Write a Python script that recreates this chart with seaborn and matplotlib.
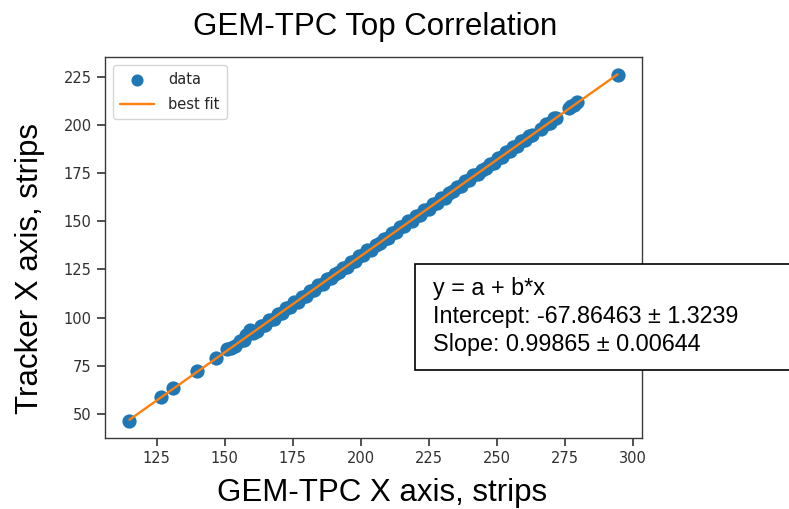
import matplotlib
matplotlib.use("Agg")
import matplotlib.pyplot as plt
from matplotlib.patches import Rectangle
import seaborn as sns
import pandas as pd

# ---- data ----
gem_x = [115.0, 126.5, 131.0, 140.0, 147.0, 151.0, 152.5, 154.0, 155.5, 157.0,
         158.0, 159.5, 160.5, 162.0, 163.5, 165.0, 166.5, 168.0, 169.5, 171.0,
         172.5, 174.0, 175.5, 177.0, 178.5, 180.0, 181.5, 183.0, 184.5, 186.0,
         187.5, 189.0, 190.5, 192.0, 193.5, 195.0, 196.5, 198.0, 199.5, 201.0,
         202.5, 204.0, 205.5, 207.0, 208.5, 210.0, 211.5, 213.0, 214.5, 216.0,
         217.5, 219.0, 220.5, 222.0, 223.5, 225.0, 226.5, 228.0, 229.5, 231.0,
         232.5, 234.0, 235.5, 237.0, 238.5, 240.0, 241.5, 243.0, 244.5, 246.0,
         247.5, 249.0, 250.5, 252.0, 253.5, 255.0, 256.0, 257.5, 259.0, 260.5,
         262.0, 263.0, 266.5, 268.0, 269.5, 271.0, 272.0, 276.5, 277.5, 278.5,
         279.5, 294.5]
tracker_y = [46.5, 58.8, 63.3, 72.2, 79.0, 83.5, 84.0, 85.3, 87.9, 88.4,
             90.8, 93.6, 92.0, 93.2, 95.8, 96.4, 98.9, 99.5, 101.8, 102.3,
             104.9, 105.5, 107.9, 108.3, 110.8, 111.4, 113.9, 114.5, 116.9, 117.4,
             119.9, 120.5, 122.8, 123.4, 125.9, 126.3, 128.9, 129.4, 131.8, 132.5,
             134.9, 135.3, 137.9, 138.5, 140.8, 141.4, 143.9, 144.4, 146.8, 147.5,
             149.9, 150.3, 152.8, 153.4, 155.9, 156.5, 158.8, 159.4, 161.9, 162.3,
             164.8, 165.5, 167.9, 168.4, 170.8, 171.3, 173.9, 174.5, 176.8, 177.4,
             179.9, 180.3, 182.8, 183.5, 185.9, 186.4, 188.4, 188.9, 191.5, 192.0,
             194.4, 194.6, 197.9, 200.4, 200.9, 203.4, 203.5, 208.9, 210.0, 210.2,
             211.9, 226.0]
intercept = -67.86463
intercept_err = 1.3239
slope = 0.99865
slope_err = 0.00644

x_ticks = [125, 150, 175, 200, 225, 250, 275, 300]
y_ticks = [50, 75, 100, 125, 150, 175, 200, 225]

title = "GEM-TPC Top Correlation"
x_label = "GEM-TPC X axis, strips"
y_label = "Tracker X axis, strips"

# ---- styling ----
sns.set_theme(style="ticks", rc={
    "axes.edgecolor": "#3a3a3a",
    "axes.linewidth": 1.0,
    "xtick.color": "#3a3a3a",
    "ytick.color": "#3a3a3a",
    "xtick.labelcolor": "#303030",
    "ytick.labelcolor": "#303030",
    "xtick.labelsize": 10.5,
    "ytick.labelsize": 10.5,
})
plt.rcParams["font.family"] = ["DejaVu Sans"]

W, H = 789, 509
fig = plt.figure(figsize=(W / 100, H / 100), dpi=100)
ax = fig.add_axes([105 / W, 1 - 438 / H, (642 - 105) / W, (438 - 57) / H])

df = pd.DataFrame({"x": gem_x, "y": tracker_y})
sns.scatterplot(data=df, x="x", y="y", ax=ax, s=105, color="#1f77b4",
                linewidth=0, label="data", zorder=2)

x_fit = [min(gem_x), max(gem_x)]
fit_df = pd.DataFrame({"x": x_fit, "y": [intercept + slope * v for v in x_fit]})
sns.lineplot(data=fit_df, x="x", y="y", ax=ax, color="#ff7f0e", linewidth=1.7,
             label="best fit", zorder=3)

ax.set_xticks(x_ticks)
ax.set_yticks(y_ticks)
ax.set_xlabel("")
ax.set_ylabel("")
ax.margins(0.05)
for sp in ax.spines.values():
    sp.set_visible(True)

leg = ax.legend(loc="upper left", fontsize=10.5, frameon=True, fancybox=True,
                framealpha=0.8, edgecolor="#cccccc", markerscale=0.85,
                borderaxespad=0.55, labelspacing=0.65, borderpad=0.5,
                handlelength=2.3, handletextpad=1.0)

big = ["Liberation Sans", "DejaVu Sans"]
fig.text(375 / W, 1 - 27 / H, title, ha="center", va="center",
         fontsize=22.5, family=big, color="black")
fig.text(382 / W, 1 - 493 / H, x_label, ha="center", va="center",
         fontsize=22.5, family=big, color="black")
fig.text(30 / W, 1 - 268 / H, y_label, ha="center", va="center",
         rotation=90, fontsize=22.5, family=big, color="black")

# annotation box with the fit result
fig.patches.append(Rectangle((415 / W, 1 - 370 / H), (800 - 415) / W, (370 - 264) / H,
                             transform=fig.transFigure, facecolor="white",
                             edgecolor="black", linewidth=1.2, zorder=5))
lines = ["y = a + b*x",
         f"Intercept: {intercept:.5f} \u00b1 {intercept_err:.4f}",
         f"Slope: {slope:.5f} \u00b1 {slope_err:.5f}"]
for i, t in enumerate(lines):
    fig.text(433 / W, 1 - (289 + 28 * i) / H, t, ha="left", va="center",
             fontsize=16.8, family=big, color="black", zorder=6)

fig.savefig("out.png", dpi=100)
